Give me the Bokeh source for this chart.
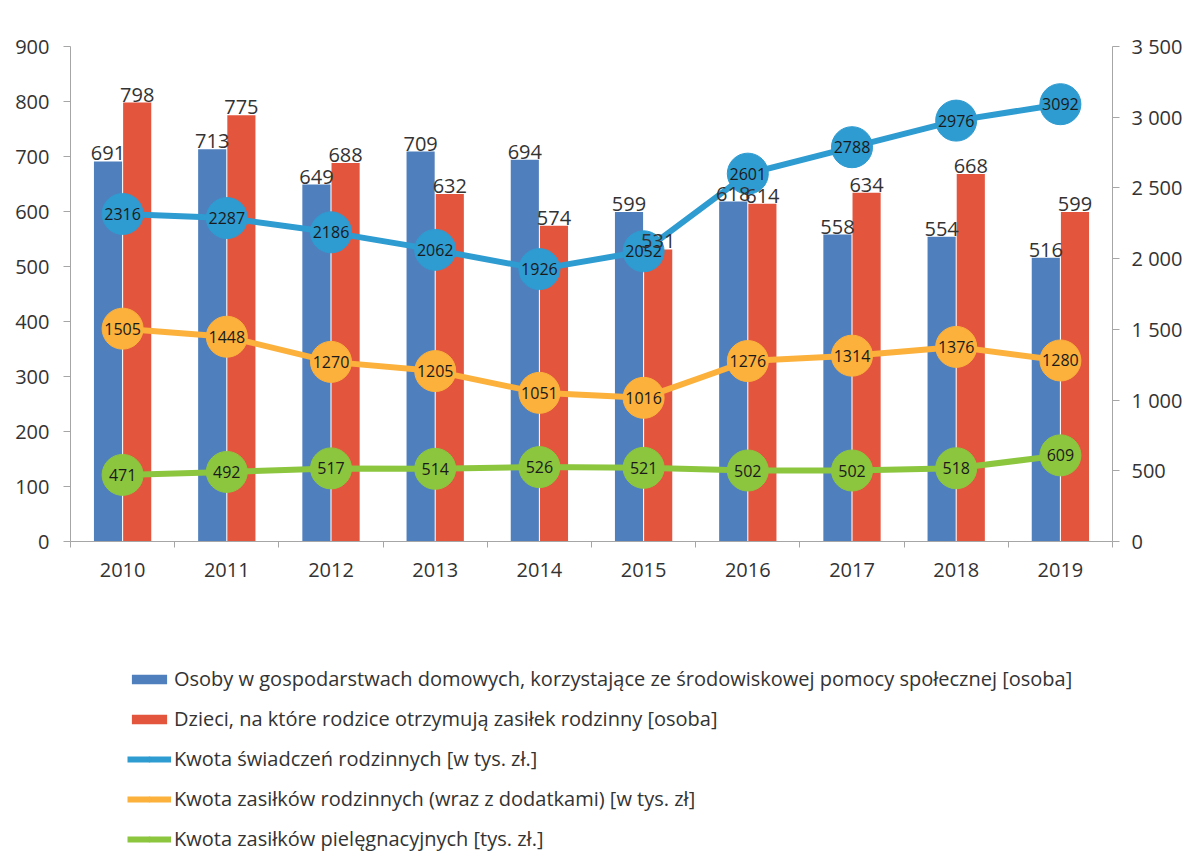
from bokeh.plotting import figure
from bokeh.layouts import column
from bokeh.models import (ColumnDataSource, Range1d, LinearAxis, FixedTicker,
                          Legend, LegendItem)
from bokeh.transform import dodge
from bokeh.core.properties import value
from bokeh.embed import file_html
from bokeh.resources import INLINE

# ---- data ----
years = ["2010", "2011", "2012", "2013", "2014", "2015", "2016", "2017", "2018", "2019"]
osoby = [691, 713, 649, 709, 694, 599, 618, 558, 554, 516]
dzieci = [798, 775, 688, 632, 574, 531, 614, 634, 668, 599]
swiadczenia = [2316, 2287, 2186, 2062, 1926, 2052, 2601, 2788, 2976, 3092]
zasilki = [1505, 1448, 1270, 1205, 1051, 1016, 1276, 1314, 1376, 1280]
pielegnacyjne = [471, 492, 517, 514, 526, 521, 502, 502, 518, 609]

left_ticks = [0, 100, 200, 300, 400, 500, 600, 700, 800, 900]
right_ticks = [0, 500, 1000, 1500, 2000, 2500, 3000, 3500]
right_tick_labels = ["0", "500", "1 000", "1 500", "2 000", "2 500", "3 000", "3 500"]

names = [
    "Osoby w gospodarstwach domowych, korzystające ze środowiskowej pomocy społecznej [osoba]",
    "Dzieci, na które rodzice otrzymują zasiłek rodzinny [osoba]",
    "Kwota świadczeń rodzinnych [w tys. zł.]",
    "Kwota zasiłków rodzinnych (wraz z dodatkami) [w tys. zł]",
    "Kwota zasiłków pielęgnacyjnych [tys. zł.]",
]

FONT = "Open Sans"
C_BLUE_BAR = "#4f7fbd"
C_RED_BAR = "#e4553e"
C_BLUE = "#2e9bd1"
C_ORANGE = "#fbb13c"
C_GREEN = "#8cc63f"
AX = "#a6a6a6"
TXT = "#333333"

xc = [i + 0.5 for i in range(len(years))]
src = ColumnDataSource(dict(
    x=xc, year=years, osoby=osoby, dzieci=dzieci,
    sw=swiadczenia, za=zasilki, pi=pielegnacyjne,
    osoby_t=[str(v) for v in osoby], dzieci_t=[str(v) for v in dzieci],
    sw_t=[str(v) for v in swiadczenia], za_t=[str(v) for v in zasilki],
    pi_t=[str(v) for v in pielegnacyjne],
))

p = figure(frame_width=1042, frame_height=495,
           x_range=Range1d(0, len(years)), y_range=Range1d(0, 900),
           output_backend="svg", toolbar_location=None,
           min_border_left=70, min_border_right=68, min_border_top=46,
           min_border_bottom=59)
p.extra_y_ranges = {"right": Range1d(0, 3500)}
p.xgrid.visible = False
p.ygrid.visible = False
p.outline_line_color = None
p.background_fill_color = "white"
p.border_fill_color = "white"

# axes
xa = p.xaxis[0]
xa.ticker = FixedTicker(ticks=xc, minor_ticks=list(range(len(years) + 1)))
xa.major_label_overrides = {x: y for x, y in zip(xc, years)}
xa.major_tick_out = 0
xa.major_tick_in = 0
xa.minor_tick_out = 6
xa.minor_tick_in = 0
xa.minor_tick_line_color = AX
xa.axis_line_color = AX
xa.major_label_standoff = 15
xa.major_label_text_font = FONT
xa.major_label_text_font_size = "20px"
xa.major_label_text_color = TXT

ya = p.yaxis[0]
ya.ticker = FixedTicker(ticks=left_ticks)
ya.minor_tick_line_color = None
ya.major_tick_out = 7
ya.major_tick_in = 0
ya.major_tick_line_color = AX
ya.axis_line_color = AX
ya.major_label_standoff = 14
ya.major_label_text_font = FONT
ya.major_label_text_font_size = "20px"
ya.major_label_text_color = TXT

ra = LinearAxis(y_range_name="right", ticker=FixedTicker(ticks=right_ticks))
ra.major_label_overrides = {t: l for t, l in zip(right_ticks, right_tick_labels)}
ra.minor_tick_line_color = None
ra.major_tick_out = 7
ra.major_tick_in = 0
ra.major_tick_line_color = AX
ra.axis_line_color = AX
ra.major_label_standoff = 12
ra.major_label_text_font = FONT
ra.major_label_text_font_size = "20px"
ra.major_label_text_color = TXT
p.add_layout(ra, "right")

# bars
BW = 0.27
OFF = 0.14
p.vbar(x=dodge("x", -OFF, range=p.x_range), top="osoby", width=BW,
       source=src, fill_color=C_BLUE_BAR, line_color=None)
p.vbar(x=dodge("x", OFF, range=p.x_range), top="dzieci", width=BW,
       source=src, fill_color=C_RED_BAR, line_color=None)

# lines (right axis)
line_series = (("sw", C_BLUE), ("za", C_ORANGE), ("pi", C_GREEN))
for col, color in line_series:
    p.line("x", col, source=src, y_range_name="right",
           line_color=color, line_width=6)
    p.scatter("x", col, source=src, y_range_name="right", size=41,
              fill_color=color, line_color=color)
    p.text("x", col, text=col + "_t", source=src, y_range_name="right",
           text_align="center", text_baseline="middle",
           text_font=value(FONT), text_font_size="16px", text_color="#1a1a1a")

# bar labels
p.text(dodge("x", -OFF, range=p.x_range), "osoby", text="osoby_t", source=src,
       text_align="center", text_baseline="bottom", y_offset=-1,
       text_font=value(FONT), text_font_size="20px", text_color=TXT)
p.text(dodge("x", OFF, range=p.x_range), "dzieci", text="dzieci_t", source=src,
       text_align="center", text_baseline="bottom", y_offset=-1,
       text_font=value(FONT), text_font_size="20px", text_color=TXT)

# ---- legend figure (below the chart) ----
lg = figure(width=1180, height=260, x_range=Range1d(0, 1), y_range=Range1d(0, 1),
            output_backend="svg", toolbar_location=None,
            x_axis_location=None, y_axis_location=None,
            min_border=0, min_border_left=0, min_border_right=0,
            min_border_top=0, min_border_bottom=0)
lg.xgrid.visible = False
lg.ygrid.visible = False
lg.outline_line_color = None
lg.background_fill_color = "white"
lg.border_fill_color = "white"

# legend-only renderers: their points lie outside the visible range
dummy = ColumnDataSource(dict(x=[-10, -9], y=[-10, -10]))
r1 = lg.vbar(x="x", top="y", width=0.1, source=dummy,
             fill_color=C_BLUE_BAR, line_color=None)
r2 = lg.vbar(x="x", top="y", width=0.1, source=dummy,
             fill_color=C_RED_BAR, line_color=None)
items = [LegendItem(label=names[0], renderers=[r1]),
         LegendItem(label=names[1], renderers=[r2])]
for nm, (col, color) in zip(names[2:], line_series):
    rl = lg.line("x", "y", source=dummy, line_color=color, line_width=6)
    rs = lg.scatter("x", "y", source=dummy, size=12,
                    fill_color=color, line_color=color)
    items.append(LegendItem(label=nm, renderers=[rl, rs], index=0))

legend = Legend(items=items, location=(57, 8), orientation="vertical",
                border_line_color=None, background_fill_alpha=0,
                padding=0, margin=0, spacing=13,
                glyph_width=44, glyph_height=12, label_height=22,
                label_standoff=3,
                label_text_font=FONT, label_text_font_size="20px",
                label_text_color=TXT)
lg.add_layout(legend, "center")

open("out.html", "w").write(file_html(column(p, lg, spacing=0), INLINE))
